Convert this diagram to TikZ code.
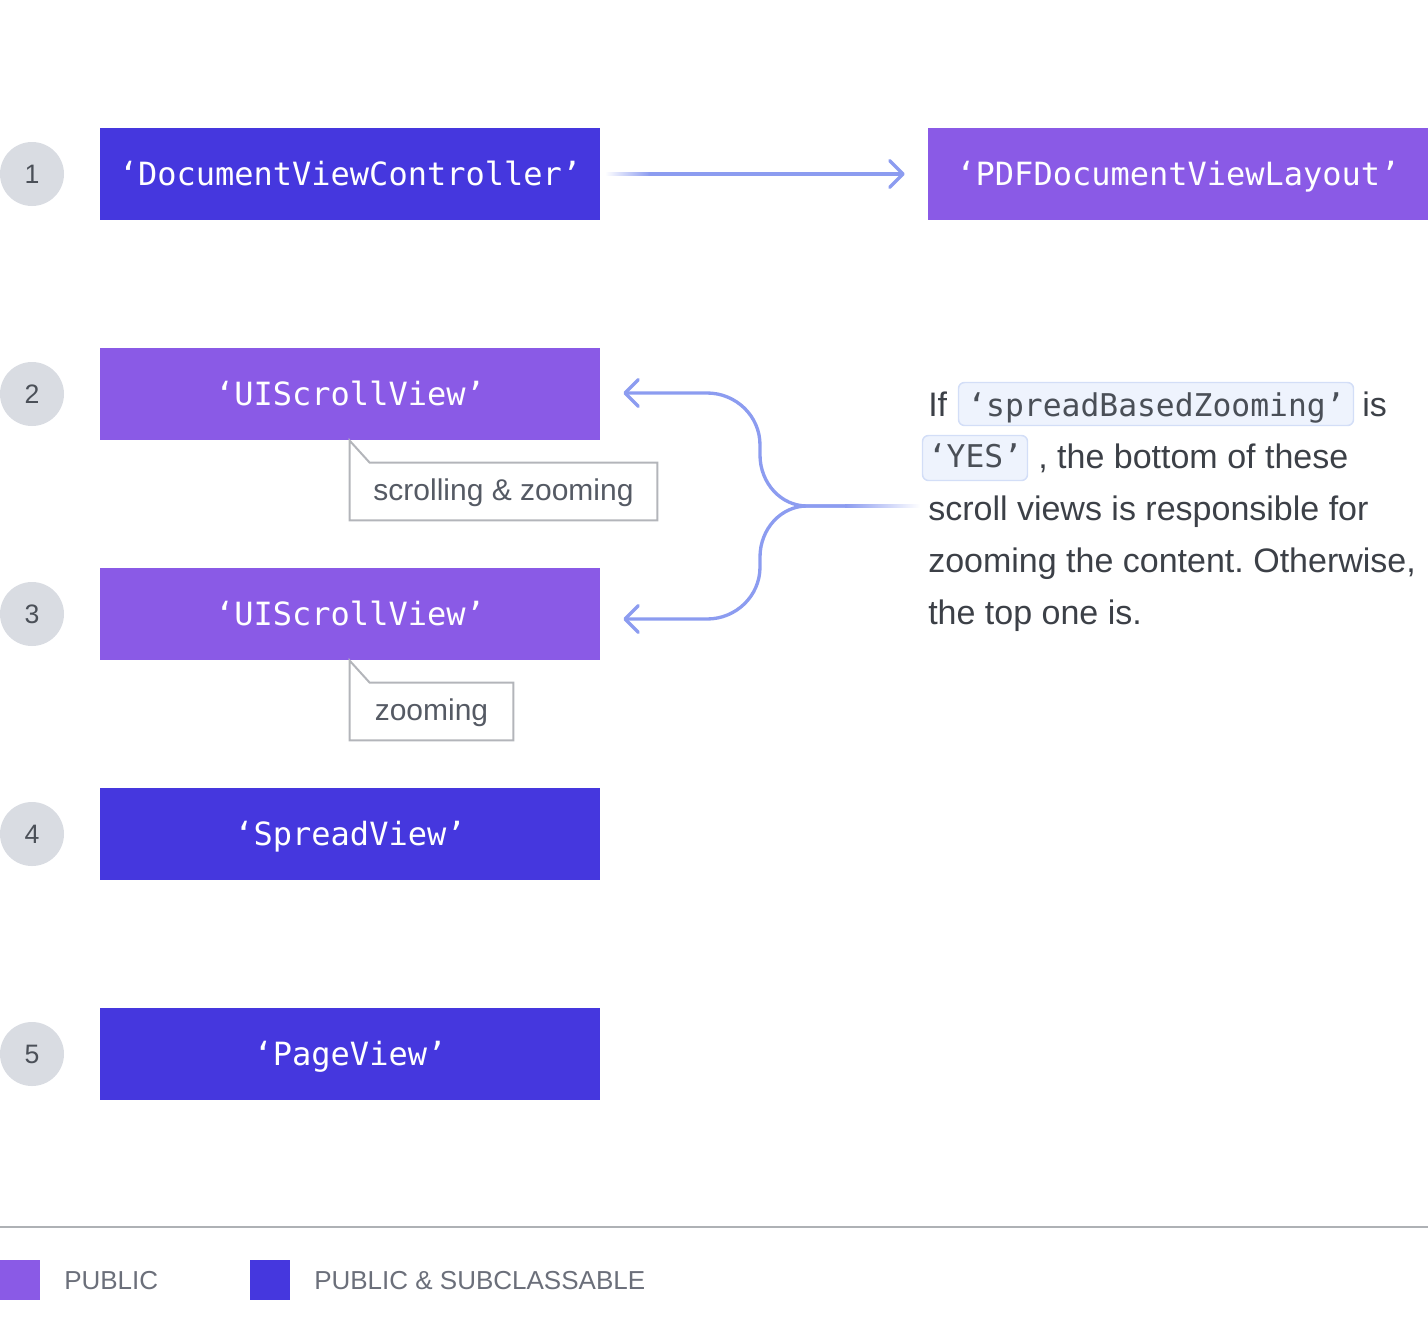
\documentclass[tikz,border=0pt]{standalone}
\usepackage{fontspec}
\setmainfont{Liberation Sans}
\newfontfamily\monof{DejaVu Sans Mono}
\usetikzlibrary{arrows.meta,calc}
\definecolor{cblue}{HTML}{4537DE}
\definecolor{cpurple}{HTML}{8A5AE6}
\definecolor{carrow}{HTML}{8C9CF0}
\definecolor{ccircle}{HTML}{D9DCE2}
\definecolor{cnum}{HTML}{4B5058}
\definecolor{ctext}{HTML}{3C4047}
\definecolor{cnote}{HTML}{555A64}
\definecolor{cnoteline}{HTML}{B3B5BA}
\definecolor{ccodebg}{HTML}{EEF3FD}
\definecolor{ccodeline}{HTML}{D3DEF7}
\definecolor{ccodetext}{HTML}{4A4F57}
\definecolor{clegend}{HTML}{6B6F7A}
\definecolor{crule}{HTML}{AEB1B5}
\frenchspacing
\begin{document}
\begin{tikzpicture}[x=0.75pt,y=-0.75pt,
 cls/.style={rectangle, minimum width=375pt, minimum height=69pt, inner sep=0pt, text=white, font=\monof\fontsize{24}{28}\selectfont, text height=17.5pt, text depth=0pt},
 pub/.style={cls, fill=cpurple},
 sub/.style={cls, fill=cblue},
 numc/.style={circle, fill=ccircle, minimum size=48pt, inner sep=0pt, text=cnum, font=\fontsize{20}{24}\selectfont},
 note/.style={rectangle, inner sep=0pt, minimum height=42.75pt, text=cnote, font=\fontsize{22.5}{26}\selectfont, text height=13pt, text depth=0pt},
 noteline/.style={draw=cnoteline, line width=1.5pt},
 conn/.style={draw=carrow, line width=2.5pt, line cap=round, -{Straight Barb[length=10pt,width=20pt,round]}},
 body/.style={anchor=base west, inner sep=0pt, text=ctext, font=\fontsize{25.5}{30}\selectfont},
 code/.style={rectangle, rounded corners=4.5pt, fill=ccodebg, draw=ccodeline, line width=1.1pt, inner sep=0pt, text=ccodetext, font=\monof\fontsize{23.5}{28}\selectfont, text depth=0pt},
 legsq/.style={rectangle, minimum size=30pt, inner sep=0pt},
 legtxt/.style={anchor=base west, inner sep=0pt, text=clegend, font=\fontsize{19.5}{24}\selectfont},
]
\useasboundingbox (0,0) rectangle (1428,1332);

% level numbers
\node[numc] (k1) at (32,174) {1};
\node[numc] (k2) at (32,394) {2};
\node[numc] (k3) at (32,614) {3};
\node[numc] (k4) at (32,834) {4};
\node[numc] (k5) at (32,1054) {5};

% classes
\node[sub] (dvc) at (350,174) {‘DocumentViewController’};
\node[pub] (pdf) at (1178,174) {‘PDFDocumentViewLayout’};
\node[pub] (sv1) at (350,394) {‘UIScrollView’};
\node[pub] (sv2) at (350,614) {‘UIScrollView’};
\node[sub] (spv) at (350,834) {‘SpreadView’};
\node[sub] (pgv) at (350,1054) {‘PageView’};

% notes
\node[note, minimum width=230.25pt] (note1) at (503.5,491.5) {scrolling \& zooming};
\draw[noteline] (note1.south west) -- ($(note1.north west)+(0,-22)$) -- ($(note1.north west)+(20,0)$) -- (note1.north east) -- (note1.south east) -- cycle;
\node[note, minimum width=122.25pt] (note2) at (431.5,711.5) {zooming};
\draw[noteline] (note2.south west) -- ($(note2.north west)+(0,-22)$) -- ($(note2.north west)+(20,0)$) -- (note2.north east) -- (note2.south east) -- cycle;

% top connector
\shade[left color=white, right color=carrow] (605,172.33) rectangle (650,175.67);
\draw[conn] ($(dvc.east)+(50,0)$) -- ($(pdf.west)+(-23,0)$);

% bracket connector
\coordinate (hub) at (845,506);
\coordinate (tail) at (920,506);
\shade[left color=carrow, right color=white] (hub) ++(0,-1.67) rectangle ($(tail)+(0,1.67)$);
\draw[conn] (hub) -- (807,506) .. controls (781,506) and (760,483) .. (760,455) -- (760,445) .. controls (760,416) and (736,393) .. (707,393) -- ($(sv1.east)+(23,-1)$);
\draw[conn] (hub) -- (807,506) .. controls (781,506) and (760,529) .. (760,557) -- (760,567) .. controls (760,596) and (736,619) .. (707,619) -- ($(sv2.east)+(23,5)$);

% explanatory text
\node[body] (t1) at (928,416) {If};
\node[code, minimum width=296.25pt, minimum height=32.25pt, text height=18.75pt] (c1) at (1156,404) {‘spreadBasedZooming’};
\node[body] (t2) at (1362,416) {is};
\node[code, minimum width=78.75pt, minimum height=33.75pt, text height=14.25pt] (c2) at (975,458) {‘YES’};
\node[body] (t3) at (1038,468) {, the bottom of these};
\node[body] (t4) at (928,520) {scroll views is responsible for};
\node[body] (t5) at (928,572) {zooming the content. Otherwise,};
\node[body] (t6) at (928,624) {the top one is.};

% legend
\draw[draw=crule, line width=1.5pt] (0,1227) -- (1428,1227);
\node[legsq, fill=cpurple] (lg1) at (20,1280) {};
\node[legtxt] (lt1) at (64,1289) {PUBLIC};
\node[legsq, fill=cblue] (lg2) at (270,1280) {};
\node[legtxt] (lt2) at (314,1289) {PUBLIC \& SUBCLASSABLE};
\end{tikzpicture}
\end{document}
